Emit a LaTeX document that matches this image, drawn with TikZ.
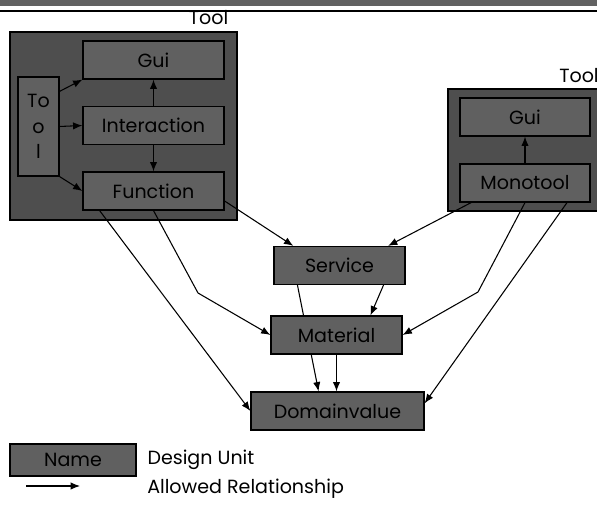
\documentclass[tikz,border=0pt]{standalone}
\usepackage{fontspec}
\setmainfont{Poppins}
\usetikzlibrary{positioning, arrows.meta, fit, calc, backgrounds}
\usepackage{xcolor}
\definecolor{unitgray}{RGB}{96,96,96}
\definecolor{toolgray}{RGB}{78,78,78}
\definecolor{bargray}{RGB}{98,98,98}

\begin{document}
\begin{tikzpicture}[
  x=0.75pt, y=-0.75pt,
  unit/.style={rectangle, draw=black, fill=unitgray, line width=0.9pt,
               minimum width=#1, minimum height=28.5pt, inner sep=0pt,
               font=\fontsize{14.3}{17}\selectfont},
  toolbox/.style={rectangle, draw=black, fill=toolgray, line width=0.9pt, inner sep=0pt},
  rel/.style={-{Latex[length=7pt, width=5.5pt]}, line width=0.8pt},
  lbl/.style={font=\fontsize{14.3}{17}\selectfont, inner sep=0pt},
  node distance=8pt
]
\useasboundingbox (0,0) rectangle (597,505);

% ===== PAGE HEADER =====
\fill[bargray] (0,0) rectangle (597,6.5);
\draw[line width=1.1pt] (0,10.8) -- (597,10.8);

% ===== LEFT TOOL =====
\node[unit=105.75pt] (gui) at (153.5,60) {Gui};
\node[unit=105.75pt] (inter) at (153.5,125.5) {Interaction};
\node[unit=105.75pt] (func) at (153.5,191) {Function};
\node[unit=30.75pt, minimum height=74.25pt, align=center,
      font=\fontsize{14.3}{19}\selectfont] (toolv) at (38.5,126.5) {To\\o\\l};

% ===== RIGHT TOOL =====
\node[unit=97.5pt] (mgui) at (525,117) {Gui};
\node[unit=97.5pt] (mono) at (525,183) {Monotool};

% ===== SHARED UNITS =====
\node[unit=98.25pt] (serv) at (339.5,265.5) {Service};
\node[unit=98.25pt] (mat) at (336.5,335) {Material};
\node[unit=129.75pt] (dom) at (337.5,411) {Domainvalue};

% ===== LEGEND =====
\node[unit=94.5pt, minimum height=24pt] (legunit) at (73,460) {Name};
\node[lbl, anchor=west, right=8pt of legunit] (legtext) {Design Unit};
\coordinate (lega) at (26,486);
\coordinate (legb) at (80,486);
\node[lbl, anchor=west] (legrel) at (147,489) {Allowed Relationship};

\begin{pgfonlayer}{background}
  % tool frames
  \node[toolbox, minimum width=170.25pt, minimum height=141pt] (lefttool) at (123.5,126) {};
  \node[toolbox, minimum width=115.5pt, minimum height=91.5pt] (righttool) at (525,150) {};

  % inside the tools
  \draw[rel] (toolv.59) -- (gui.south west);
  \draw[rel] (toolv.east) -- (inter.west);
  \draw[rel] (toolv.south east) -- (func.west);
  \draw[rel] (inter.north) -- (gui.south);
  \draw[rel] (inter.south) -- (func.north);
  \draw[rel] (mono.north) -- (mgui.south);

  % from function
  \coordinate (fbend) at (198,293);
  \draw[rel] (func.-8) -- (serv.157);
  \draw[rel] (func.south) -- (fbend) -- (mat.west);
  \draw[rel] (func.200) -- (dom.west);

  % from monotool
  \coordinate (mbend) at (478,292);
  \draw[rel] (mono.200) -- (serv.22);
  \draw[rel] (mono.south) -- (mbend) -- (mat.east);
  \draw[rel] (mono.-25) -- (dom.5);

  % service, material
  \draw[rel] (serv.205) -- (dom.134);
  \draw[rel] (serv.-24) -- (mat.30);
  \draw[rel] (mat.south) -- (mat.south |- dom.north);

  \draw[rel] (lega) -- (legb);
\end{pgfonlayer}

% ===== TOOL LABELS =====
\node[lbl, anchor=base east] at ($(lefttool.north east)+(-9,-7)$) {Tool};
\node[lbl, anchor=base west] at (559,83) {Tool};

\end{tikzpicture}
\end{document}
